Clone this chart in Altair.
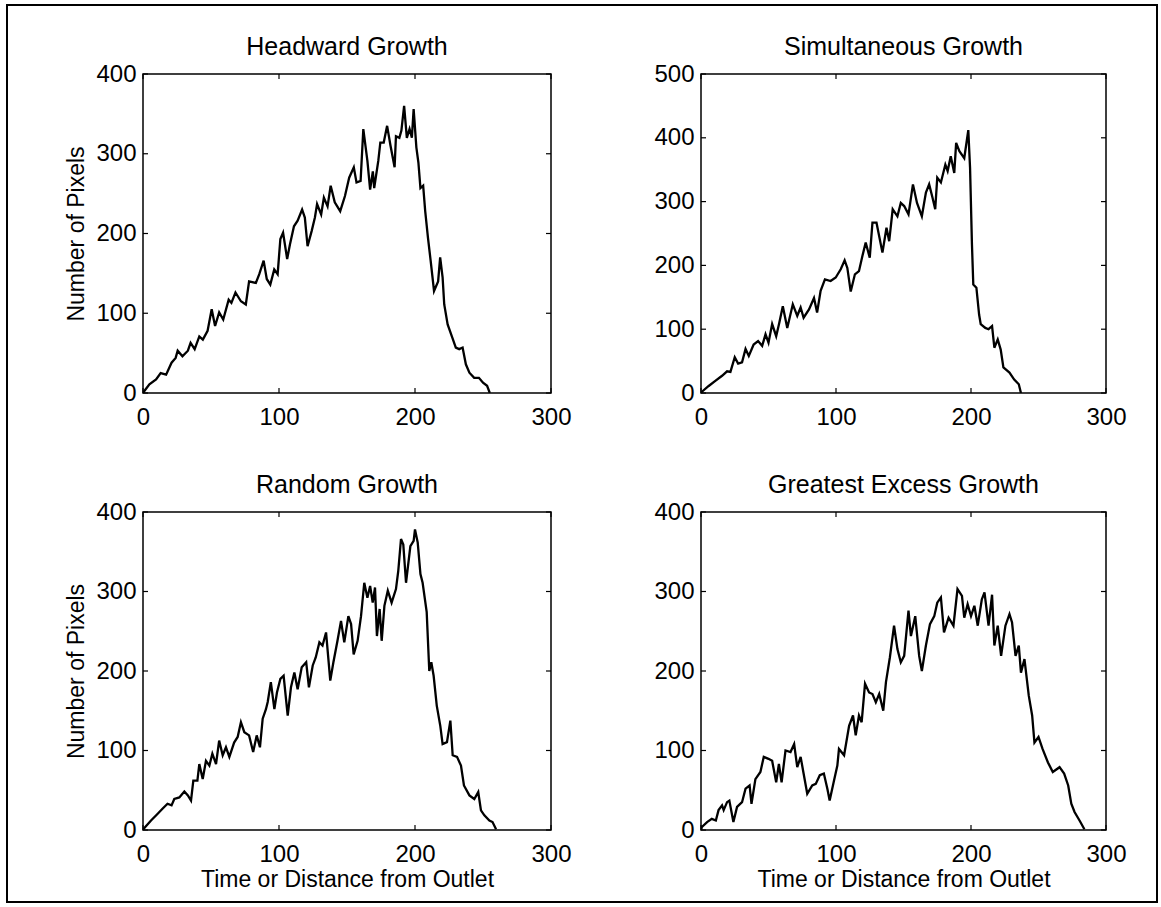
import altair as alt
import pandas as pd

# ---------------- data ----------------
HEAD_X = [0, 1, 4.7, 9.6, 13, 17, 21, 24, 25.5, 29, 33, 35, 38, 41.4, 44, 47.5, 50.5, 53, 56, 59,
          63, 65, 68, 72, 75.6, 78, 83, 85.5, 88.7, 91, 93.6, 96.5, 99, 101, 103, 106, 108, 111,
          113.7, 117, 119, 121, 124, 126.4, 128, 131, 133, 135.7, 138, 141, 145, 148.5, 151.6,
          155, 157, 160, 162, 165, 167, 169, 170, 173, 174.5, 177, 179.5, 182, 185, 186, 188.5,
          190, 192, 194, 196, 197.7, 199, 201, 202.5, 204, 206, 207.5, 209.5, 211.5, 214, 217,
          218.5, 220.3, 221.5, 224, 227.5, 230, 232.5, 235, 237.4, 240, 243.5, 247, 250, 253, 255]
HEAD_Y = [0, 2.5, 11, 17, 25, 23, 38, 44, 53, 46, 53, 63, 55, 71, 67, 78, 105, 84, 101, 92,
          117, 113, 126, 115, 111, 140, 138, 149, 166, 143, 136, 155, 149, 193, 201, 168, 186, 209,
          216, 230, 220, 184, 203, 220, 237, 224, 245, 234, 260, 239, 228, 247, 270,
          283, 264, 266, 331, 291, 255, 278, 257, 291, 314, 314, 335, 310, 283, 322, 320,
          329, 360, 320, 331, 320, 356, 308, 289, 257, 260, 228, 195, 166, 128, 140,
          170, 145, 111, 86, 69, 57, 55, 57, 36, 25.5, 19, 19, 13, 9, 0]

SIM_X = [0, 0.7, 5.7, 10.6, 15.6, 19.3, 21.8, 25, 27.5, 30.4, 33, 35.4, 39, 42.3, 45.3, 47.8, 50,
         52.7, 55.7, 58, 60.6, 63.9, 68, 71.3, 73.8, 76, 80, 83.7, 86, 88.6, 91.8, 96, 99.8, 103.5,
         106.4, 108.4, 110.9, 114, 117, 119.6, 122, 125, 127, 130, 134.4, 137.4, 139.4, 142,
         145.5, 148, 150.5, 153.7, 157, 160, 163.6, 166.6, 169, 171.5, 173.5, 175, 177.7, 181,
         182.7, 185, 187.6, 189, 191.4, 195, 198, 199.3, 200.7, 201.7, 204, 206, 207.2, 210.6,
         213, 215.6, 217.3, 219.8, 222, 224, 228.5, 232, 235.4, 237]
SIM_Y = [0, 2, 11, 19, 27, 34, 33, 56, 46, 48, 69, 58, 76, 81.5, 74, 92, 79,
         108, 89, 110, 136, 102, 139, 121, 134, 118, 131, 149, 126, 160, 178, 175.5, 181, 194,
         208, 196, 159, 186, 191, 215, 236, 212, 267, 267, 220, 259, 238, 288,
         277, 298, 293, 280, 327, 298, 277, 314, 327, 306, 288, 337.5, 330, 358,
         348, 371, 345, 392, 379, 368, 412, 353, 233, 170, 165, 123, 108, 102,
         100, 105, 71, 84, 68, 40, 32, 21, 13.6, 0]

RAND_X = [0, 1, 5.9, 10.8, 14.5, 18, 21, 23, 26.7, 30.4, 33, 35.3, 37, 40, 41.4, 43.9, 46.3, 48.8,
          51, 53.7, 56, 58.6, 61, 63.5, 67, 69.6, 72, 74.5, 78, 81, 83.6, 86, 88, 90.4, 91.7, 94,
          96.6, 98.5, 101, 103.4, 106.4, 108.8, 111.3, 113.7, 116.7, 120, 122, 124.8, 127, 129.7,
          132, 134.6, 137.7, 140, 143, 145.6, 148, 151, 153, 154.9, 157.8, 160.3, 162.7, 165,
          167, 168.9, 170.6, 172, 174, 175.5, 177.5, 180, 182.8, 186, 187.7, 189.7, 191.4, 193.4,
          196.6, 199, 200, 202, 204, 205.6, 208.6, 210.5, 212, 213.7, 216, 218.6, 220.3, 223.5,
          226, 227.7, 230.9, 233.8, 236, 240, 243.6, 246.5, 248.5, 251, 254.7, 257, 259.6]
RAND_Y = [0, 2.5, 12, 20.5, 27, 33, 31, 39, 41, 48.5, 43.5, 37, 62, 62, 83, 64, 87, 81,
          96, 83, 112.5, 94, 104, 92, 110, 117, 135.6, 123, 119, 98, 119, 104, 140, 152, 161, 186,
          152, 173, 190, 194, 144, 179.5, 198, 177, 204.6, 211, 179.5, 207, 217, 236,
          232, 248.5, 188, 211, 238, 263, 236, 269, 259, 221, 238, 269, 311, 292,
          307, 286, 305, 244, 278, 238, 282, 301, 286, 303, 326, 366, 359, 311,
          357, 363.6, 378, 361.5, 322, 311, 274, 200, 211, 194, 156.5, 131, 108, 110.5,
          137.6, 94, 92, 81, 56, 43.5, 39, 47.7, 24.7, 18.4, 12, 10, 1]

GREAT_X = [0, 0.7, 4.5, 8, 11, 13, 15.6, 16.8, 19.3, 21, 24, 26.7, 30.4, 33, 36, 37.4, 40.3, 44,
           46.5, 50, 52.7, 55.7, 57.7, 59.7, 62.6, 66.3, 69, 71.3, 73.8, 76, 78.7, 82.4, 85, 88,
           91, 93.6, 95.3, 98.5, 101, 102.2, 106, 109.7, 112.6, 114.6, 117, 119, 121.5, 124.5,
           127, 129.5, 132, 135, 137, 139.9, 143, 145.5, 148, 150.5, 153.7, 155.5, 158.7, 161.6,
           163.6, 166.6, 169.6, 172.8, 175, 177.7, 180, 183.4, 187, 190, 193.3, 195, 197.5, 200,
           202.5, 205, 208, 210, 213, 215.6, 217.3, 219.8, 222.3, 225.5, 228.5, 230.4, 233,
           235.4, 237, 239.6, 242.8, 245.3, 247, 250, 253, 257, 260.6, 265.6, 269, 272, 274.3,
           276.7, 280.4, 284]
GREAT_Y = [0, 4, 10, 14, 12, 25, 31, 25, 35, 37, 10, 29, 35, 52, 56, 33, 64, 73,
           92, 89.5, 87, 60, 83, 60, 100, 98, 108, 79, 92, 71, 45.6, 56, 58, 69,
           71, 52, 37, 62, 81, 102, 94, 131, 144, 119, 144, 135.6, 184, 173,
           171, 160.7, 171, 150, 186, 217, 257, 227.6, 211, 219, 276, 244, 269, 219,
           200, 232, 259, 269, 286, 292.5, 248.5, 267, 257, 303, 294.6, 267, 284, 269,
           282, 257, 290, 299, 257, 296, 232, 257, 219, 257, 271.5, 261, 219,
           232, 198, 215, 169, 144, 110, 117, 102, 85, 73, 79, 71, 56, 33,
           22.6, 12, 1]

TITLES = ["Headward Growth", "Simultaneous Growth", "Random Growth", "Greatest Excess Growth"]
Y_MAX = [400, 500, 400, 400]
X_TICKS = [0, 100, 200, 300]
Y_TICKS_400 = [0, 100, 200, 300, 400]
Y_TICKS_500 = [0, 100, 200, 300, 400, 500]
X_TITLE = "Time or Distance from Outlet"
Y_TITLE = "Number of Pixels"

FONT = "Liberation Sans"
TICK_LEN = 5


def panel(xs, ys, title, ymax, yticks, w, h, show_ytitle, show_xtitle, frame=False):
    df = pd.DataFrame({"x": xs, "y": ys})
    xscale = alt.Scale(domain=[0, 300], nice=False, zero=False)
    yscale = alt.Scale(domain=[0, ymax], nice=False, zero=False)
    xaxis = alt.Axis(values=X_TICKS, title=X_TITLE if show_xtitle else None, tickSize=0,
                     domain=False, grid=False, labelPadding=12, labelFontSize=24,
                     titleFontSize=23, titleFontWeight="normal", titlePadding=2,
                     labelColor="black", titleColor="black", labelFlush=False)
    yaxis = alt.Axis(values=yticks, title=Y_TITLE if show_ytitle else None, tickSize=0,
                     domain=False, grid=False, labelPadding=7, labelFontSize=24,
                     titleFontSize=23, titleFontWeight="normal", titlePadding=7,
                     labelColor="black", titleColor="black", labelFlush=False)

    line = alt.Chart(df).mark_line(color="black", strokeWidth=2.3, clip=True).encode(
        x=alt.X("x:Q", scale=xscale, axis=xaxis),
        y=alt.Y("y:Q", scale=yscale, axis=yaxis),
    )
    xt = pd.DataFrame({"t": X_TICKS})
    yt = pd.DataFrame({"t": yticks})
    bottom = alt.Chart(xt).mark_rule(color="black", strokeWidth=1.2).encode(
        x=alt.X("t:Q", scale=xscale, axis=xaxis), y=alt.value(h), y2=alt.value(h - TICK_LEN))
    top = alt.Chart(xt).mark_rule(color="black", strokeWidth=1.2).encode(
        x=alt.X("t:Q", scale=xscale, axis=xaxis), y=alt.value(0), y2=alt.value(TICK_LEN))
    left = alt.Chart(yt).mark_rule(color="black", strokeWidth=1.2).encode(
        y=alt.Y("t:Q", scale=yscale, axis=yaxis), x=alt.value(0), x2=alt.value(TICK_LEN))
    right = alt.Chart(yt).mark_rule(color="black", strokeWidth=1.2).encode(
        y=alt.Y("t:Q", scale=yscale, axis=yaxis), x=alt.value(w), x2=alt.value(w - TICK_LEN))
    head = alt.Chart(pd.DataFrame({"k": [0]})).mark_text(
        font=FONT, fontSize=25, color="black", align="center", baseline="alphabetic").encode(
        x=alt.value(w / 2), y=alt.value(-19), text=alt.value(title))
    layers = [line, bottom, top, left, right, head]
    if frame:
        box = alt.Chart(pd.DataFrame({"k": [0]})).mark_rect(
            filled=False, stroke="black", strokeWidth=2).encode(
            x=alt.value(-136), x2=alt.value(1014), y=alt.value(-69), y2=alt.value(828))
        layers.append(box)
    return alt.layer(*layers).properties(width=w, height=h)


p1 = panel(HEAD_X, HEAD_Y, TITLES[0], Y_MAX[0], Y_TICKS_400, 408, 319, True, False, frame=True)
p2 = panel(SIM_X, SIM_Y, TITLES[1], Y_MAX[1], Y_TICKS_500, 405, 319, False, False)
p3 = panel(RAND_X, RAND_Y, TITLES[2], Y_MAX[2], Y_TICKS_400, 408, 318, True, True)
p4 = panel(GREAT_X, GREAT_Y, TITLES[3], Y_MAX[3], Y_TICKS_400, 405, 318, False, True)

chart = alt.concat(p1, p2, p3, p4, columns=2, spacing={"row": 119, "column": 150},
                   bounds="flush").properties(
    padding={"left": 5, "top": 3, "right": 0, "bottom": 0},
    background="white",
).configure(font=FONT).configure_view(stroke="black", strokeWidth=1.5).configure_axis(
    labelFont=FONT, titleFont=FONT)

chart.save("out.html", embed_options={"renderer": "svg", "actions": False})
